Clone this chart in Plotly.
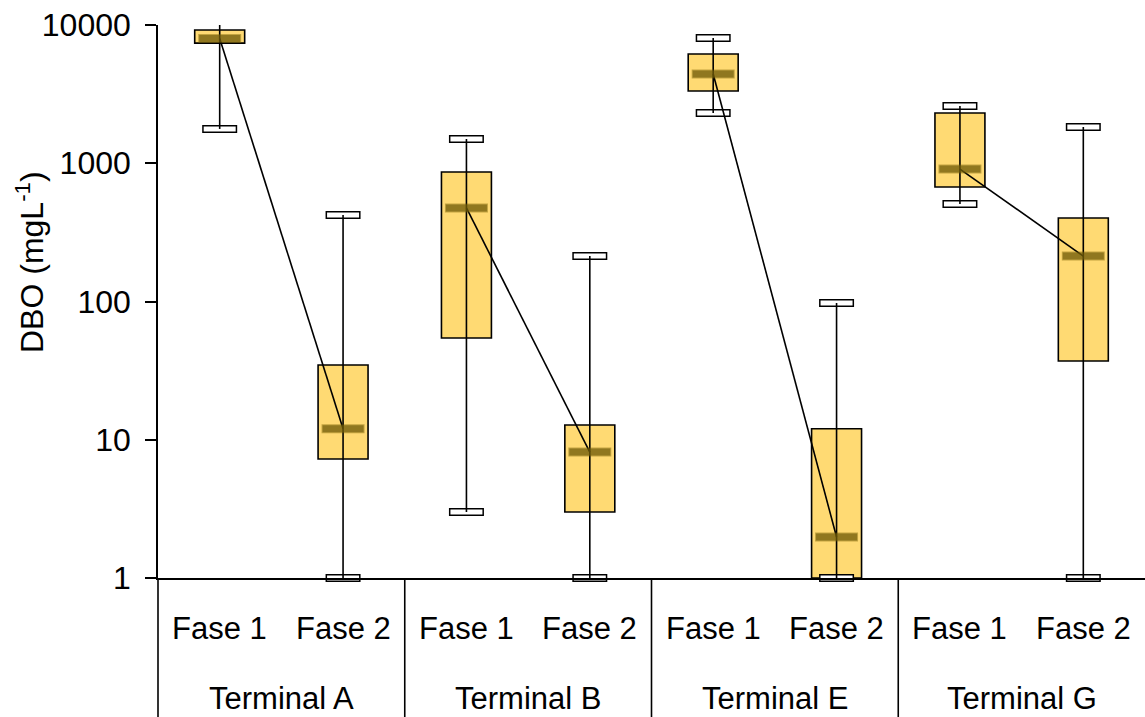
import plotly.graph_objects as go

terminals = ["Terminal A", "Terminal B", "Terminal E", "Terminal G"]
phases = ["Fase 1", "Fase 2"]

# per group in order: A-F1, A-F2, B-F1, B-F2, E-F1, E-F2, G-F1, G-F2
lower = [1770, 1.0, 3.0, 1.0, 2310, 1.0, 507, 1.0]
q1 = [7400, 7.26, 54.5, 3.0, 3330, 1.0, 673, 37.1]
median = [8000, 12.0, 475, 8.15, 4425, 1.98, 908, 213]
q3 = [9200, 34.7, 865, 12.8, 6170, 12.0, 2310, 402]
upper = [10300, 423, 1497, 213, 8050, 97.5, 2595, 1830]

pos = list(range(len(median)))
FONT = "Liberation Sans, Arial, sans-serif"
LS = 1.4  # plotly line-ew marker length factor

fig = go.Figure()

# caps (white rectangles with black outline)
cap_x = pos + pos
cap_y = lower + upper
fig.add_trace(go.Scatter(
    x=cap_x, y=cap_y, mode="markers", cliponaxis=False, hoverinfo="skip",
    marker=dict(symbol="line-ew", size=35 / LS, line=dict(color="black", width=8)),
    showlegend=False))
fig.add_trace(go.Scatter(
    x=cap_x, y=cap_y, mode="markers", cliponaxis=False, hoverinfo="skip",
    marker=dict(symbol="line-ew", size=32 / LS, line=dict(color="white", width=5)),
    showlegend=False))

# whiskers
wx, wy = [], []
for p, lo, hi in zip(pos, lower, upper):
    wx += [p, p, None]
    wy += [lo, hi, None]
fig.add_trace(go.Scatter(x=wx, y=wy, mode="lines", cliponaxis=False,
                         line=dict(color="black", width=1.6),
                         hoverinfo="skip", showlegend=False))

# median connecting lines per terminal
cx, cy = [], []
for t in range(len(terminals)):
    i = 2 * t
    cx += [pos[i], pos[i + 1], None]
    cy += [median[i], median[i + 1], None]
fig.add_trace(go.Scatter(x=cx, y=cy, mode="lines",
                         line=dict(color="black", width=1.6),
                         hoverinfo="skip", showlegend=False))

# boxes
fig.add_trace(go.Bar(
    x=pos, base=q1, y=[b - a for a, b in zip(q1, q3)], width=0.405,
    marker=dict(color="rgba(255,188,0,0.55)", line=dict(color="black", width=1.6)),
    showlegend=False, hoverinfo="skip"))

# median bars (outline + fill)
fig.add_trace(go.Scatter(
    x=pos, y=median, mode="markers", cliponaxis=False, hoverinfo="skip",
    marker=dict(symbol="line-ew", size=43 / LS,
                line=dict(color="rgba(120,95,0,0.45)", width=9)),
    showlegend=False))
fig.add_trace(go.Scatter(
    x=pos, y=median, mode="markers", cliponaxis=False, hoverinfo="skip",
    marker=dict(symbol="line-ew", size=41 / LS,
                line=dict(color="rgba(110,90,10,0.6)", width=7)),
    showlegend=False))

H = 553.0
annotations = []
for i, p in enumerate(pos):
    annotations.append(dict(x=p, y=-50 / H, xref="x", yref="paper",
                            text=phases[i % 2], showarrow=False,
                            font=dict(family=FONT, size=31, color="black"),
                            xanchor="center", yanchor="middle"))
for t, name in enumerate(terminals):
    annotations.append(dict(x=2 * t + 0.5, y=-120 / H, xref="x", yref="paper",
                            text=name, showarrow=False,
                            font=dict(family=FONT, size=31, color="black"),
                            xanchor="center", yanchor="middle"))
annotations.append(dict(x=(30 - 158) / 987.0, y=(578 - 262) / H,
                        xref="paper", yref="paper",
                        xanchor="center", yanchor="middle",
                        text="DBO (mgL<sup>-1</sup>)", textangle=-90,
                        showarrow=False,
                        font=dict(family=FONT, size=32, color="black")))

shapes = [dict(type="line", xref="paper", yref="paper", x0=0, x1=0,
               y0=0, y1=-139 / H, line=dict(color="black", width=1.6))]
for s in [1.5, 3.5, 5.5]:
    shapes.append(dict(type="line", xref="x", yref="paper", x0=s, x1=s,
                       y0=0, y1=-139 / H, line=dict(color="black", width=1.6)))

fig.update_layout(
    width=1145, height=717,
    margin=dict(l=158, r=0, t=25, b=139),
    paper_bgcolor="white", plot_bgcolor="white",
    barmode="overlay",
    font=dict(family=FONT, size=30, color="black"),
    xaxis=dict(range=[-0.5, 7.5], showticklabels=False, ticks="",
               showgrid=False, zeroline=False, showline=True,
               linecolor="black", linewidth=1.6),
    yaxis=dict(type="log", range=[0, 4], showgrid=False, zeroline=False,
               showline=True, linecolor="black", linewidth=1.6,
               ticks="outside", ticklen=11, tickcolor="black", tickwidth=1.6,
               ticklabelstandoff=8,
               tickvals=[1, 10, 100, 1000, 10000],
               ticktext=["1", "10", "100", "1000", "10000"],
               tickfont=dict(family=FONT, size=32, color="black")),
    annotations=annotations, shapes=shapes,
)

fig.write_html("out.html")
